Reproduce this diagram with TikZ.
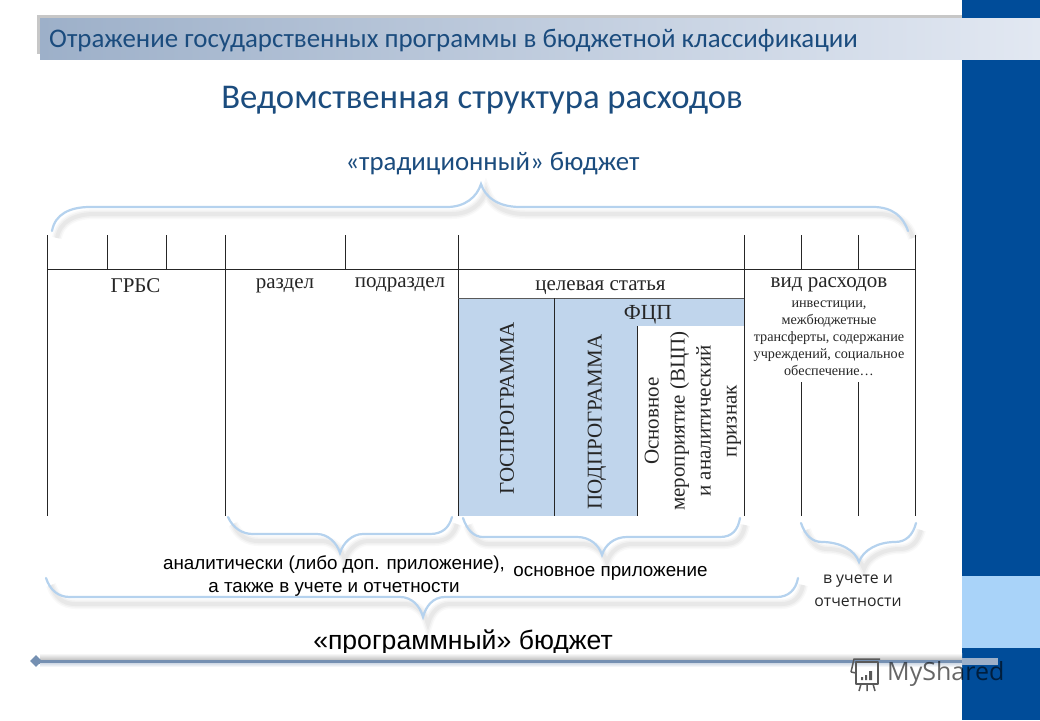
\documentclass[tikz,border=0pt]{standalone}
\usepackage{fontspec}
\setmainfont{Liberation Serif}
\newfontfamily\headfont{Carlito}
\newfontfamily\labelfont{Liberation Sans}
\newfontfamily\notefont{Open Sans}
\usepackage{xcolor}
\usetikzlibrary{calc,positioning,shapes.geometric}
\definecolor{navyband}{HTML}{004C99}
\definecolor{skyband}{HTML}{A9D3F9}
\definecolor{headblue}{HTML}{1B4C7E}
\definecolor{cellblue}{HTML}{C0D5EC}
\definecolor{bracelight}{HTML}{B5D2EE}
\definecolor{rulesteel}{HTML}{7590B2}
\definecolor{barleft}{HTML}{9DB0C9}
\definecolor{barright}{HTML}{E2E8F2}
\tikzset{%
	rule/.style      = {line width=0.9pt, black!85},
	cell/.style      = {fill=cellblue, draw=none},
	bracket/.style   = {line width=2.2pt, bracelight, line cap=round,
		preaction={draw=black, opacity=0.025, line width=10pt, transform canvas={xshift=5pt,yshift=-7pt}},
		preaction={draw=black, opacity=0.03, line width=7pt, transform canvas={xshift=5pt,yshift=-7pt}},
		preaction={draw=black, opacity=0.035, line width=4pt, transform canvas={xshift=5pt,yshift=-7pt}}},
	tabletext/.style = {font=\fontsize{21}{23}\selectfont, black!85},
	uptext/.style    = {rotate=90, align=center, black!85, font=\fontsize{21}{26}\selectfont},
	sidetext/.style  = {font=\labelfont\fontsize{18.8}{23}\selectfont, align=center},
	board/.style     = {draw=black!65, line width=1.5pt, line join=round},
}
\begin{document}
\begin{tikzpicture}[x=1pt,y=-1pt]
	\useasboundingbox (0,0) rectangle (1040,720);
	\fill[white] (0,0) rectangle (1040,720);
	% side band
	\fill[navyband] (962,0) rectangle (1040,720);
	\fill[skyband] (962,576) rectangle (1040,648);
	% title bar
	\fill[black!22] (37,15) rectangle (962,18);
	\fill[black!22] (37,15) rectangle (40,54);
	\fill[left color=barleft, right color=barright] (40,18) rectangle (1040,59);
	\node [font=\headfont\fontsize{26.9}{30}\selectfont, headblue, anchor=west, inner sep=0pt] (bar) at (49,41) {Отражение государственных программы  в бюджетной классификации};
	\node [font=\headfont\fontsize{34.7}{38}\selectfont, headblue] (title) at (482,100) {Ведомственная структура расходов};
	\node [font=\headfont\fontsize{26.8}{30}\selectfont, headblue] (trad) at (492.5,164) {«традиционный» бюджет};

	% table fills
	\fill[cell] (458,298) rectangle (637,516);
	\fill[cell] (637,298) rectangle (744,326);

	% table lines
	\coordinate (gl) at (47,269);
	\coordinate (gr) at (915,269);
	\draw[rule] (gl) -- (gr);
	\draw[rule] (47,235) -- (47,516);
	\draw[rule] (225,235) -- (225,516);
	\draw[rule] (458,235) -- (458,516);
	\draw[rule] (744,235) -- (744,516);
	\draw[rule] (915,235) -- (915,516);
	\foreach \x in {107,166,345,801,858} {
		\draw[rule] (\x,235) -- (\x,269);
	}
	\foreach \x in {801,858} {
		\draw[rule] (\x,382) -- (\x,516);
	}
	\draw[line width=1pt, black!65] (458,298) -- (744,298);
	\draw[rule] (554,298) -- (554,516);
	\draw[rule] (637,326) -- (637,516);

	% table texts
	\node [tabletext] (grbs) at (135.5,286) {ГРБС};
	\node [tabletext] (razdel) at (285,286) {раздел};
	\node [tabletext] (podrazdel) at (400,285) {подраздел};
	\node [tabletext] (tselevaya) at (600.5,288) {целевая  статья};
	\node [tabletext] (vid) at (829,285) {вид расходов};
	\node [font=\fontsize{21.5}{23}\selectfont, black!85] (fcp) at (648,315) {ФЦП};
	\node [font=\fontsize{14.2}{16.9}\selectfont, align=center, black!85] (vidnote) at (829,338.5) {инвестиции,\\межбюджетные\\трансферты, содержание\\учреждений, социальное\\обеспечение…};
	\node [uptext] (gosprog) at (507,408) {ГОСПРОГРАММА};
	\node [uptext] (podprog) at (597,422) {ПОДПРОГРАММА};
	\node [uptext] (osnovnoe) at (693,421) {Основное\\мероприятие (ВЦП)\\и аналитический\\признак};

	% braces
	\draw[bracket] (52,231) .. controls (55,214) and (70,207) .. (90,207) -- (447,207) .. controls (465,207) and (477,197) .. (481,184) .. controls (485,197) and (498,207) .. (520,207) -- (873,207) .. controls (892,207) and (903,216) .. (908,231);
	\draw[bracket] (228,517) .. controls (233,528) and (242,534) .. (253,534) -- (317,534) .. controls (328,534) and (337,543) .. (340,553) .. controls (343,543) and (352,534) .. (363,534) -- (430,534) .. controls (442,534) and (449,528) .. (452,517);
	\draw[bracket] (463,518) .. controls (467,530) and (474,537) .. (483,537) -- (577,537) .. controls (590,537) and (599,545) .. (602,555) .. controls (605,545) and (614,537) .. (627,537) -- (720,537) .. controls (732,537) and (738,530) .. (740,518);
	\draw[bracket] (801,523) .. controls (805,535) and (812,542) .. (822,542) .. controls (840,542) and (855,550) .. (859,562) .. controls (863,550) and (878,542) .. (895,542) .. controls (906,542) and (913,535) .. (916,523);
	\draw[bracket] (46,578) .. controls (50,590) and (58,597) .. (70,597) -- (400,597) .. controls (412,597) and (420,606) .. (423,617) .. controls (426,606) and (433,597) .. (445,597) -- (777,597) .. controls (788,597) and (796,590) .. (798,578);

	% captions
	\node [sidetext] (analit) at (334,576.5) {аналитически (либо доп. приложение),\\а также в учете и отчетности};
	\node [sidetext] (osnprl) at (610.5,573) {основное приложение};
	\node [font=\notefont\fontsize{15.8}{23}\selectfont, align=center, black!85] (uchet) at (858,591) {в учете и\\отчетности};
	\node [font=\labelfont\fontsize{26.6}{30}\selectfont] (prog) at (463,642) {«программный» бюджет};

	% bottom rule
	\fill[top color=white, bottom color=black!25] (40,653) rectangle (962,660);
	\fill[rulesteel] (36,660) rectangle (962,663.5);
	\fill[top color=rulesteel!30, bottom color=white] (40,663.5) rectangle (962,667);
	\fill[barleft] (962,658) rectangle (998,665);
	\node [diamond, fill=rulesteel, minimum width=12pt, minimum height=12pt, inner sep=0pt] (tip) at (36,661) {};

	% logo
	\draw[board] (856,662) rectangle (878,684);
	\draw[board] (851,672) -- (854,659) -- (880,659);
	\draw[board] (851,672) -- (856,673);
	\draw[board] (861,684) -- (859,691) (867,684) -- (867,691) (873,684) -- (875,691);
	\fill[black!65] (861,677) rectangle (863,680) (865,675) rectangle (867,680) (869,671) rectangle (872,680);
	\node [font=\notefont\fontsize{25}{30}\selectfont, black, opacity=0.6, anchor=west, inner sep=0pt] (shared) at (887,674) {MyShared};
\end{tikzpicture}
\end{document}
